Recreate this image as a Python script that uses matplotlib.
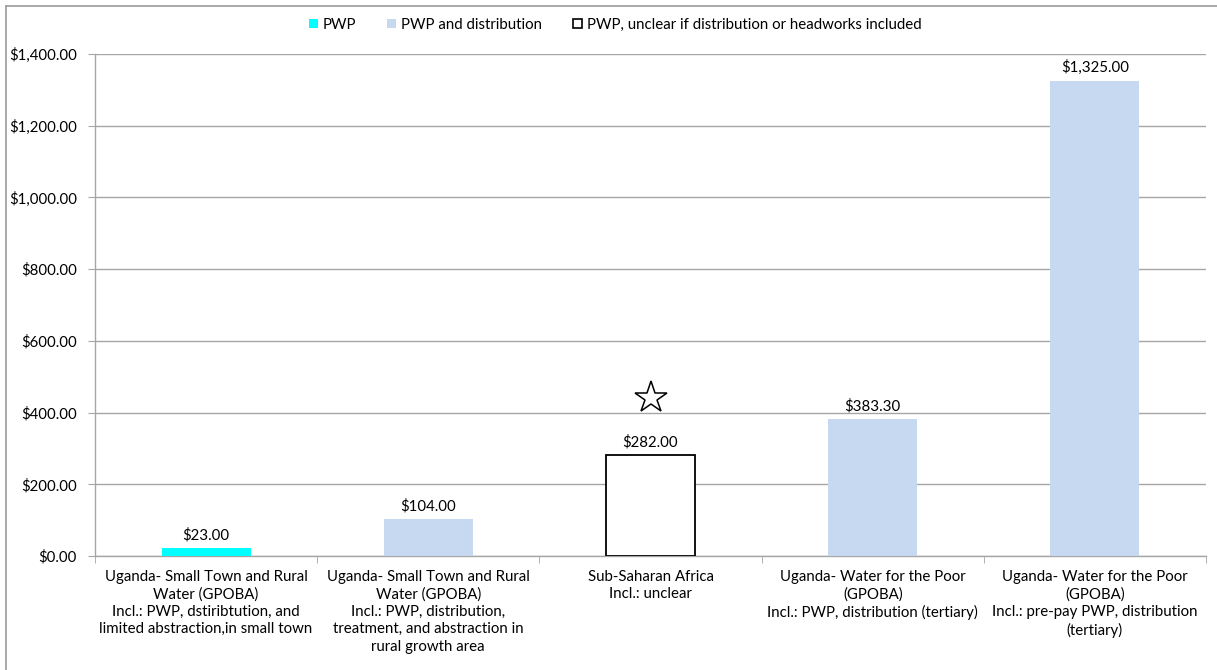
import matplotlib
matplotlib.use("Agg")
import matplotlib.pyplot as plt
from matplotlib.patches import Patch
from matplotlib.lines import Line2D
from matplotlib.ticker import FuncFormatter, FixedLocator

plt.rcParams['font.family'] = ['Lato', 'DejaVu Sans']

categories = [
    "Uganda- Small Town and Rural\nWater (GPOBA)\nIncl.: PWP, dstiribtution, and\nlimited abstraction,in small town",
    "Uganda- Small Town and Rural\nWater (GPOBA)\nIncl.: PWP, distribution,\ntreatment, and abstraction in\nrural growth area",
    "Sub-Saharan Africa\nIncl.: unclear",
    "Uganda- Water for the Poor\n(GPOBA)\nIncl.: PWP, distribution (tertiary)",
    "Uganda- Water for the Poor\n(GPOBA)\nIncl.: pre-pay PWP, distribution\n(tertiary)",
]
values = [23.00, 104.00, 282.00, 383.30, 1325.00]
groups = ["PWP", "PWP and distribution", "PWP, unclear if distribution or headworks included",
          "PWP and distribution", "PWP and distribution"]
legend_labels = ["PWP", "PWP and distribution", "PWP, unclear if distribution or headworks included"]
star_index = 2
star_value = 440

face = {"PWP": "#00FFFF",
        "PWP and distribution": "#C6D9F0",
        "PWP, unclear if distribution or headworks included": "white"}
edge = {"PWP": "none",
        "PWP and distribution": "none",
        "PWP, unclear if distribution or headworks included": "black"}

fig = plt.figure(figsize=(12.17, 6.70), dpi=100)
ax = fig.add_axes([95 / 1217, 1 - 556 / 670, (1206 - 95) / 1217, (556 - 54) / 670])

x = list(range(len(values)))
for xi, v, g in zip(x, values, groups):
    ax.bar(xi, v, width=0.4, color=face[g], edgecolor=edge[g],
           linewidth=1.3 if edge[g] != "none" else 0, zorder=3)
    ax.annotate(f"${v:,.2f}", (xi, v), xytext=(0, 4), textcoords="offset points",
                ha="center", va="bottom", fontsize=10.8, zorder=4)

ax.plot([star_index], [star_value], marker="*", markersize=24, markerfacecolor="white",
        markeredgecolor="black", markeredgewidth=1.1, linestyle="none", zorder=4)

ax.set_xlim(-0.5, len(values) - 0.5)
ax.set_ylim(0, 1400)
ax.set_yticks(range(0, 1401, 200))
ax.yaxis.set_major_formatter(FuncFormatter(lambda v, p: f"${v:,.2f}"))
ax.grid(axis="y", color="#A6A6A6", linewidth=1.0, zorder=0)
ax.set_axisbelow(True)

ax.set_xticks(x)
ax.set_xticklabels(categories, fontsize=10.8, linespacing=1.3)
ax.tick_params(axis="x", which="major", length=0, pad=10)
ax.xaxis.set_minor_locator(FixedLocator([i - 0.5 for i in range(len(values) + 1)]))
ax.tick_params(axis="x", which="minor", length=5, color="#A6A6A6", direction="out")
ax.tick_params(axis="y", length=5, color="#A6A6A6", labelsize=10.8, pad=8)

for s in ["top", "right"]:
    ax.spines[s].set_visible(False)
for s in ["left", "bottom"]:
    ax.spines[s].set_color("#A6A6A6")
    ax.spines[s].set_linewidth(1.0)

handles = [Patch(facecolor=face[l], edgecolor=("black" if edge[l] != "none" else face[l]),
                 linewidth=1.2 if edge[l] != "none" else 0) for l in legend_labels]
fig.legend(handles, legend_labels, loc="center", bbox_to_anchor=(615 / 1217, 1 - 25 / 670),
           ncol=3, frameon=False, fontsize=10.8, handlelength=0.6, handleheight=0.6,
           handletextpad=0.3, columnspacing=2.1)

# chart-area frame (top and left edges)
fig.add_artist(Line2D([6 / 1217, 1.0], [1 - 6 / 670, 1 - 6 / 670], transform=fig.transFigure,
                      color="#9C9C9C", linewidth=1.2))
fig.add_artist(Line2D([6 / 1217, 6 / 1217], [0.0, 1 - 6 / 670], transform=fig.transFigure,
                      color="#9C9C9C", linewidth=1.2))

fig.savefig("out.png", dpi=100, facecolor="white")
